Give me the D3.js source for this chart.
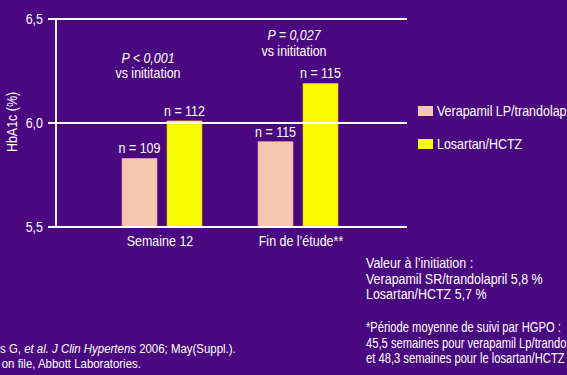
<!DOCTYPE html>
<html><head><meta charset="utf-8">
<script src="https://cdn.jsdelivr.net/npm/d3@7"></script>
<style>
html,body{margin:0;padding:0;background:#4a0880;overflow:hidden}
text{font-family:"Liberation Sans",Arial,sans-serif;fill:#fff}
</style></head>
<body>
<svg id="chart" width="567" height="375"></svg>
<script>
const categories = ["Semaine 12", "Fin de l\u2019\u00e9tude**"];
const seriesNames = ["Verapamil LP/trandolapril", "Losartan/HCTZ"];
const verapamil = [5.83, 5.91];
const losartan = [6.01, 6.19];
const nVerapamil = ["n = 109", "n = 115"];
const nLosartan = ["n = 112", "n = 115"];
const pValues = ["P < 0,001", "P = 0,027"];
const pSub = ["vs inititation", "vs inititation"];
const yTicks = [5.5, 6.0, 6.5];
const colors = ["#f8c8ae", "#fafa00"];

const svg = d3.select("#chart");
svg.append("rect").attr("width",567).attr("height",375).attr("fill","#4a0880");

const y = d3.scaleLinear().domain([5.5, 6.5]).range([227, 19]);
const x0 = d3.scaleBand().domain(categories).range([94, 366]).padding(0);
const x1 = d3.scaleBand().domain(seriesNames).range([28, 108]).paddingInner(0.222).paddingOuter(0);

// bars first so lines overlay
const data = categories.map((c,i) => ({cat:c, vals:[verapamil[i], losartan[i]], ns:[nVerapamil[i], nLosartan[i]]}));
const g = svg.append("g").selectAll("g").data(data).join("g")
  .attr("transform", d => `translate(${x0(d.cat)},0)`);
g.selectAll("rect").data(d => d.vals.map((v,j)=>({v, s:seriesNames[j], j}))).join("rect")
  .attr("x", d => x1(d.s)).attr("width", x1.bandwidth())
  .attr("y", d => y(d.v)).attr("height", d => y(5.5) - y(d.v))
  .attr("fill", d => colors[d.j])
  .attr("stroke", d => d.j===0 ? "#dca49c" : "#d8c800").attr("stroke-width",0.6);
g.selectAll("text.n").data(d => d.vals.map((v,j)=>({v, s:seriesNames[j], n:d.ns[j]}))).join("text")
  .attr("class","n")
  .attr("x", d => x1(d.s) + x1.bandwidth()/2).attr("y", d => y(d.v) - 5)
  .attr("text-anchor","middle").attr("font-size",14).text(d => d.n);

// gridlines
svg.append("g").selectAll("line").data(yTicks).join("line")
  .attr("x1", 48).attr("x2", 407)
  .attr("y1", d => y(d)).attr("y2", d => y(d))
  .attr("stroke", "#fff").attr("stroke-width", 2);
// axis line
svg.append("line").attr("x1",56).attr("x2",56).attr("y1",y(6.5)).attr("y2",y(5.5))
  .attr("stroke","#fff").attr("stroke-width",2);
// tick labels
svg.append("g").selectAll("text").data(yTicks).join("text")
  .attr("x", 43).attr("y", d => y(d)).attr("dy","0.35em")
  .attr("text-anchor","end").attr("font-size",14)
  .text(d => d3.format(".1f")(d).replace(".", ","));

// y label
svg.append("text").attr("transform","translate(17,122) rotate(-90)")
  .attr("text-anchor","middle").attr("font-size",14).text("HbA1c (%)");

// category labels
svg.append("g").selectAll("text").data(categories).join("text")
  .attr("x", (d,i) => x0(d) + x0.bandwidth()/2 + (i===1?3:-2)).attr("y", 246)
  .attr("text-anchor","middle").attr("font-size",14).text(d => d);

// p-values
const pPos = [[148, 63, 78], [294, 40, 56]];
pValues.forEach((p,i) => {
  svg.append("text").attr("x", pPos[i][0]).attr("y", pPos[i][1]).attr("text-anchor","middle")
    .attr("font-size",14).attr("font-style","italic").text(p);
  svg.append("text").attr("x", pPos[i][0]).attr("y", pPos[i][2]).attr("text-anchor","middle")
    .attr("font-size",14).text(pSub[i]);
});

// legend
const leg = svg.append("g").selectAll("g").data(seriesNames).join("g")
  .attr("transform", (d,i) => `translate(418,${106 + i*33})`);
leg.append("rect").attr("width",15).attr("height",10).attr("fill",(d,i)=>colors[i]);
leg.append("text").attr("x",19).attr("y",10).attr("font-size",14).text(d => d);

// notes
const notes1 = ["Valeur \u00e0 l\u2019initiation :", "Verapamil SR/trandolapril 5,8 %", "Losartan/HCTZ 5,7 %"];
const notes2 = ["*P\u00e9riode moyenne de suivi par HGPO :", "45,5 semaines pour verapamil Lp/trandolapril", "et 48,3 semaines pour le losartan/HCTZ"];
svg.append("g").selectAll("text").data(notes1).join("text")
  .attr("x",366).attr("y",(d,i)=>268 + i*15.5).attr("font-size",14).text(d=>d);
svg.append("g").selectAll("text").data(notes2).join("text")
  .attr("x",366).attr("y",(d,i)=>332 + i*15.5).attr("font-size",14).attr("class","n2").text(d=>d);

// condense text horizontally to mimic the narrow typeface
svg.selectAll("text").each(function(){
  const k = this.classList.contains("n2") ? 0.80 : 0.89;
  const w = this.getComputedTextLength();
  this.setAttribute("textLength", (w * k).toFixed(1));
  this.setAttribute("lengthAdjust", "spacingAndGlyphs");
});

// reference (condensed via a group scale)
const ref = svg.append("g").attr("transform","scale(0.88,1)");
const r1 = ref.append("text").attr("x",0).attr("y",353).attr("font-size",13);
r1.append("tspan").text("s G, ");
r1.append("tspan").attr("font-style","italic").text("et al. J Clin Hypertens");
r1.append("tspan").text(" 2006; May(Suppl.).");
ref.append("text").attr("x",2).attr("y",368).attr("font-size",13).text("on file, Abbott Laboratories.");
</script>
</body></html>
